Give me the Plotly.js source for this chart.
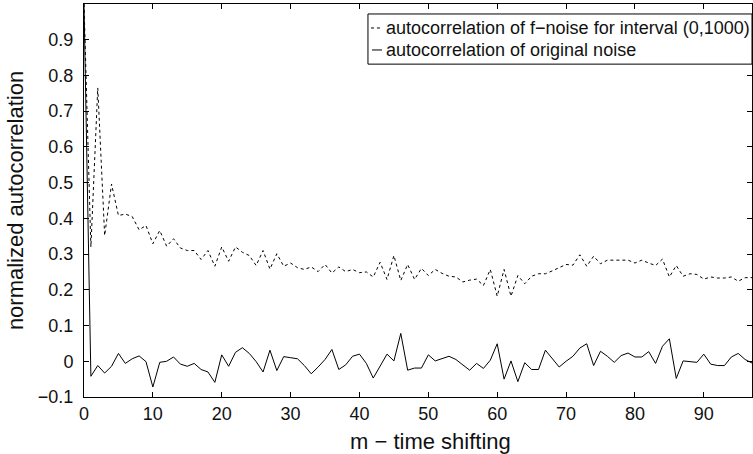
<!DOCTYPE html>
<html><head><meta charset="utf-8">
<script src="https://cdn.plot.ly/plotly-3.0.1.min.js"></script>
<style>html,body{margin:0;padding:0;background:#fff}</style>
</head><body>
<div id="chart" style="width:753px;height:454px"></div>
<script>
const lags = Array.from({length: 98}, (_, i) => i);
const fNoise = [1.0,0.32,0.765,0.352,0.496,0.408,0.412,0.405,0.368,0.38,
0.329,0.366,0.322,0.343,0.317,0.31,0.31,0.285,0.31,0.266,
0.32,0.28,0.32,0.305,0.296,0.268,0.31,0.258,0.301,0.266,
0.275,0.262,0.257,0.264,0.251,0.271,0.247,0.264,0.251,0.257,
0.248,0.25,0.236,0.277,0.229,0.296,0.226,0.271,0.229,0.26,
0.24,0.257,0.246,0.238,0.236,0.222,0.227,0.23,0.212,0.257,
0.182,0.257,0.182,0.24,0.217,0.238,0.245,0.245,0.253,0.261,
0.271,0.269,0.298,0.266,0.294,0.273,0.283,0.283,0.283,0.283,
0.275,0.283,0.275,0.268,0.286,0.236,0.268,0.238,0.245,0.243,
0.23,0.236,0.233,0.233,0.236,0.224,0.234,0.234];
const origNoise = [1.0,-0.042,-0.012,-0.033,-0.014,0.022,-0.006,0.007,0.015,-0.001,
-0.072,-0.003,0.0,0.012,-0.008,-0.014,-0.006,-0.023,-0.03,-0.059,
0.018,-0.014,0.025,0.038,0.022,-0.001,-0.03,0.031,-0.026,0.013,
0.01,0.007,-0.012,-0.035,-0.016,0.005,0.033,-0.023,-0.01,0.014,
0.02,-0.006,-0.047,-0.012,0.02,0.001,0.078,-0.025,-0.019,-0.019,
0.018,0.001,0.008,0.014,0.005,-0.011,-0.025,-0.006,-0.02,0.003,
0.049,-0.05,0.001,-0.057,-0.004,-0.023,-0.023,0.031,0.007,-0.016,
0.0,0.014,0.037,0.049,-0.012,0.028,0.014,-0.003,0.016,0.023,
0.012,0.012,0.027,-0.006,0.042,0.063,-0.048,0.001,-0.001,-0.003,
0.02,-0.008,-0.012,-0.012,0.012,0.022,0.005,-0.005];
const xTicks = [0,10,20,30,40,50,60,70,80,90];
const yTicks = [-0.1,0,0.1,0.2,0.3,0.4,0.5,0.6,0.7,0.8,0.9];
const names = ["autocorrelation of f\u2212noise for interval (0,1000)", "autocorrelation of original noise"];
const xTitle = 'm \u2212 time shifting';
const yTitle = 'normalized autocorrelation';

const font = "Liberation Sans, Arial, Helvetica, sans-serif";
const txt = '#111';
const traces = [
  {x: lags, y: fNoise, type: 'scatter', mode: 'lines', name: names[0],
   line: {color: '#000', width: 1, dash: 'dot'}},
  {x: lags, y: origNoise, type: 'scatter', mode: 'lines', name: names[1],
   line: {color: '#000', width: 1}}
];
const axisCommon = {
  showgrid: false, zeroline: false, showline: true, mirror: 'ticks',
  linecolor: '#000', linewidth: 1, ticks: 'inside', ticklen: 5, tickcolor: '#000',
  tickfont: {family: font, size: 18, color: txt}
};
// manual legend (paper coordinates of the plot area)
const legLeft = 0.4251, legRight = 1.0, legTop = 0.9746, legBottom = 0.847;
const rowY = [0.939, 0.883];
const shapes = [
  {type: 'rect', xref: 'paper', yref: 'paper', x0: legLeft, x1: legRight, y0: legBottom, y1: legTop,
   line: {color: '#000', width: 1}, fillcolor: '#fff', layer: 'above'},
  {type: 'line', xref: 'paper', yref: 'paper', x0: 0.4296, x1: 0.4461, y0: rowY[0], y1: rowY[0],
   line: {color: '#000', width: 1, dash: 'dot'}, layer: 'above'},
  {type: 'line', xref: 'paper', yref: 'paper', x0: 0.4311, x1: 0.4461, y0: rowY[1], y1: rowY[1],
   line: {color: '#000', width: 1}, layer: 'above'}
];
const annotations = names.map((n, i) => ({
  xref: 'paper', yref: 'paper', x: 0.4491, y: rowY[i], xanchor: 'left', yanchor: 'middle',
  text: n, showarrow: false, font: {family: font, size: 18, color: txt}
}));
annotations.push({xref: 'paper', yref: 'paper', x: 0.519, y: -0.112, xanchor: 'center', yanchor: 'middle',
  text: xTitle, showarrow: false, font: {family: font, size: 22, color: txt}});
const layout = {
  width: 753, height: 454,
  margin: {l: 84, r: 1, t: 4, b: 57, pad: 0},
  paper_bgcolor: '#fff', plot_bgcolor: '#fff',
  font: {family: font, color: txt},
  showlegend: false,
  shapes: shapes,
  annotations: annotations,
  xaxis: Object.assign({}, axisCommon, {range: [0, 97], tickvals: xTicks}),
  yaxis: Object.assign({}, axisCommon, {range: [-0.1, 1.0], tickvals: yTicks, ticklabelstandoff: 6,
    ticktext: yTicks.map(v => v === 0 ? '0' : (v < 0 ? '\u2212' + Math.abs(v) : String(v))),
    title: {text: yTitle, font: {family: font, size: 22, color: txt}, standoff: 8}})
};
Plotly.newPlot('chart', traces, layout, {displayModeBar: false, staticPlot: true});
</script>
</body></html>
